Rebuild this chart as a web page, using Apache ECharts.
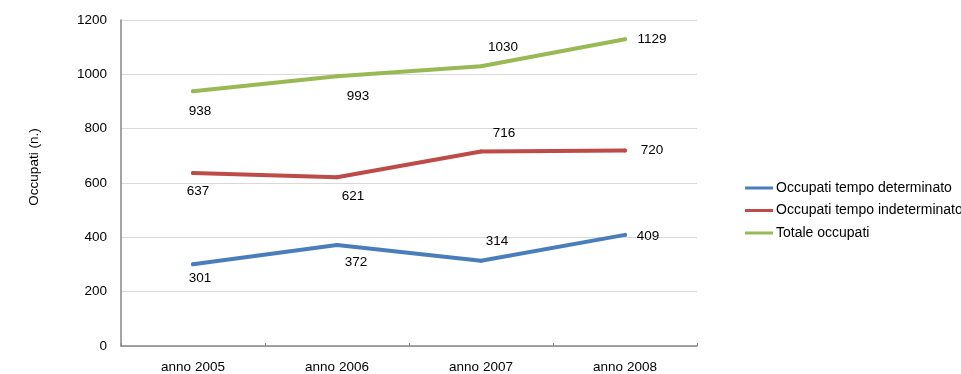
<!DOCTYPE html>
<html>
<head>
<meta charset="utf-8">
<script src="https://cdn.jsdelivr.net/npm/echarts@6/dist/echarts.min.js"></script>
<style>html,body{margin:0;padding:0;background:#fff}#c{width:961px;height:374px}</style>
</head>
<body>
<div id="c"></div>
<script>
var categories = ['anno 2005', 'anno 2006', 'anno 2007', 'anno 2008'];
var seriesNames = ['Occupati tempo determinato', 'Occupati tempo indeterminato', 'Totale occupati'];
var determinato = [301, 372, 314, 409];
var indeterminato = [637, 621, 716, 720];
var totale = [938, 993, 1030, 1129];
var yTicks = [0, 200, 400, 600, 800, 1000, 1200];

// label placement offsets (dx, dy) from each point, per series
var offsDet = [[7, 14], [19, 17], [16, -19], [23, 1]];
var offsInd = [[5, 18], [16, 19], [23, -18], [27, 0]];
var offsTot = [[7, 20], [21, 20], [22, -19], [27, 0]];

var colors = ['#4a7ebb', '#be4b48', '#98b954'];
var FONT = 'Liberation Sans, Arial, sans-serif';

function mkData(vals, offs) {
  return vals.map(function (v, i) {
    return {
      value: v,
      label: { offset: offs[i] }
    };
  });
}
function mkSeries(name, vals, offs, color) {
  return {
    name: name,
    type: 'line',
    data: mkData(vals, offs),
    symbol: 'circle',
    symbolSize: 4,
    showSymbol: true,
    itemStyle: { color: color },
    lineStyle: { color: color, width: 4, cap: 'round', join: 'round' },
    label: {
      show: true,
      position: 'inside',
      align: 'center',
      verticalAlign: 'middle',
      color: '#000',
      fontFamily: FONT,
      fontSize: 13.5
    },
    emphasis: { disabled: true },
    animation: false
  };
}

var chart = echarts.init(document.getElementById('c'));
chart.setOption({
  animation: false,
  grid: { left: 121, right: 264, top: 20, bottom: 27, containLabel: false },
  legend: {
    orient: 'vertical',
    left: 745,
    top: 181,
    padding: 0,
    itemWidth: 28,
    itemHeight: 3,
    itemGap: 8.5,
    icon: 'rect',
    data: seriesNames,
    textStyle: { fontFamily: FONT, fontSize: 14, color: '#000', lineHeight: 14, padding: [0, 0, 0, -2] }
  },
  xAxis: {
    type: 'category',
    data: categories,
    boundaryGap: true,
    axisLine: { lineStyle: { color: '#868686', width: 1.5 } },
    axisTick: { show: true, inside: true, length: 3, lineStyle: { color: '#868686' } },
    axisLabel: { color: '#000', fontFamily: FONT, fontSize: 13.5, margin: 14 },
    splitLine: { show: false }
  },
  yAxis: {
    type: 'value',
    min: yTicks[0],
    max: yTicks[yTicks.length - 1],
    interval: yTicks[1] - yTicks[0],
    name: 'Occupati (n.)',
    nameLocation: 'middle',
    nameGap: 80,
    nameRotate: 90,
    nameTextStyle: { color: '#000', fontFamily: FONT, fontSize: 13.5, padding: [0, 0, 0, 32] },
    axisLine: { show: true, lineStyle: { color: '#868686', width: 1.5 } },
    axisTick: { show: false },
    axisLabel: { color: '#000', fontFamily: FONT, fontSize: 13.5, margin: 14, formatter: function (v) { return String(v); } },
    splitLine: { show: true, lineStyle: { color: '#d9d9d9', width: 1 } }
  },
  series: [
    mkSeries(seriesNames[0], determinato, offsDet, colors[0]),
    mkSeries(seriesNames[1], indeterminato, offsInd, colors[1]),
    mkSeries(seriesNames[2], totale, offsTot, colors[2])
  ]
});
</script>
</body>
</html>
